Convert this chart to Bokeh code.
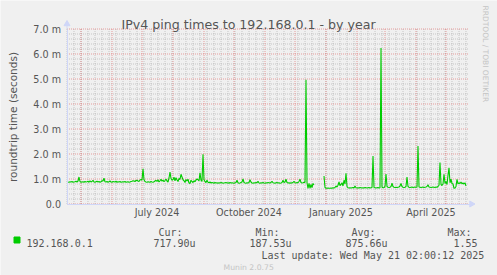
import numpy as np
import pandas as pd
from bokeh.plotting import figure
from bokeh.models import (Range1d, LinearAxis, DatetimeAxis, FixedTicker,
                          DatetimeTickFormatter, ColumnDataSource)
from bokeh.core.properties import value
from bokeh.embed import file_html
from bokeh.resources import INLINE

nan = np.nan

# ---------------- data ----------------
start_date = "2024-04-17"          # first daily sample
rtt_ms = [
    0.90, 0.88, 0.87, 0.89, 0.88, 0.90, 0.87, 0.88, 0.89, 0.91, 0.88, 0.92, 1.08, 0.90, 0.87, 0.88, 0.89, 0.87, 0.90, 0.88,
    0.89, 0.91, 0.87, 0.93, 0.88, 0.90, 0.95, 0.88, 0.87, 0.89, 0.91, 0.88, 0.90, 0.87, 0.89, 0.93, 0.92, 1.03, 0.89, 0.88,
    0.90, 0.87, 0.89, 0.92, 0.88, 0.87, 0.90, 0.89, 0.88, 0.91, 0.87, 0.89, 0.88, 0.90, 0.87, 0.88, 0.89, 0.88, 0.90, 0.87,
    0.88, 0.89, 0.87, 0.88, 0.90, 0.91, 0.93, 0.92, 0.90, 0.94, 0.95, 0.92, 0.90, 0.96, 0.98, 0.95, 1.41, 0.97, 0.90, 0.88,
    0.87, 0.89, 0.88, 0.87, 0.90, 0.88, 0.87, 0.89, 0.92, 0.95, 0.90, 0.97, 0.88, 0.93, 0.99, 0.91, 0.96, 0.89, 0.94, 1.00,
    0.92, 0.88, 1.04, 1.28, 1.02, 0.95, 0.98, 1.07, 0.93, 1.05, 0.96, 0.90, 1.02, 0.98, 1.19, 1.08, 0.97, 0.93, 0.86, 0.98,
    0.92, 0.99, 0.84, 0.82, 0.95, 0.90, 0.86, 0.93, 0.89, 0.96, 1.00, 0.97, 0.92, 1.25, 0.95, 0.90, 1.99, 0.97, 0.90, 0.86,
    0.95, 0.87, 0.85, 0.88, 0.84, 0.86, 0.85, 0.83, 0.86, 0.84, 0.85, 0.83, 0.85, 0.84, 0.86, 0.85, 0.83, 0.84, 0.85, 0.86,
    0.84, 0.85, 0.83, 0.86, 0.84, 0.85, 0.84, 0.83, 0.85, 0.86, 0.95, 0.85, 0.83, 0.84, 0.86, 0.88, 1.00, 0.86, 0.84, 0.83,
    0.85, 0.84, 0.86, 0.97, 0.88, 0.84, 0.83, 0.85, 0.84, 0.86, 0.85, 0.91, 0.84, 0.83, 0.85, 0.84, 0.86, 0.84, 0.83, 0.85,
    0.84, 0.86, 0.85, 0.84, 0.86, 0.91, 0.85, 0.84, 0.83, 0.85, 0.86, 0.84, 0.85, 0.83, 0.84, 0.86, 0.95, 0.86, 0.88, 0.99,
    0.86, 0.84, 0.85, 0.83, 0.85, 0.84, 0.86, 0.91, 0.85, 0.84, 0.86, 0.85, 0.90, 0.99, 0.86, 0.84, 0.85, 0.87, 0.86, 4.97,
    0.85, 0.62, 0.83, 0.63, 0.78, 0.66, 0.82, 0.76, nan, nan, nan, nan, nan, nan, nan, nan, nan, 1.12, 0.66, 0.63,
    0.63, 0.64, 0.63, 0.63, 0.64, 0.63, 0.65, 0.64, 0.66, 0.72, 0.68, 0.75, 0.88, 0.74, 0.78, 0.85, 0.72, 0.95, 0.80, 1.23,
    0.70, 0.65, 0.64, 0.65, 0.64, 0.65, 0.66, 0.64, 0.72, 0.65, 0.64, 0.65, 0.64, 0.66, 0.65, 0.64, 0.65, 0.64, 0.66, 0.65,
    0.64, 0.65, 0.66, 0.64, 0.65, 0.66, 1.92, 0.66, 0.65, 0.64, 0.65, 0.66, 0.64, 0.65, 6.24, 0.68, 0.65, 0.66, 0.70, 1.20,
    0.70, 0.67, 0.66, 0.67, 0.70, 0.83, 0.70, 0.67, 0.66, 0.67, 0.66, 0.67, 0.68, 0.72, 0.82, 0.70, 0.67, 0.66, 0.67, 0.70,
    1.08, 0.70, 0.67, 0.66, 0.67, 0.68, 0.66, 0.67, 0.68, 0.67, 0.68, 2.32, 0.68, 0.67, 0.66, 0.67, 0.68, 0.66, 0.67, 0.68,
    0.70, 0.77, 0.68, 0.67, 0.66, 0.67, 0.68, 0.67, 0.66, 0.68, 0.67, 0.70, 0.75, 1.66, 0.78, 0.74, 0.80, 1.19, 0.82, 0.90,
    0.78, 1.15, 1.45, 0.85, 0.99, 0.82, 0.80, 0.63, 0.64, 0.70, 0.99, 0.80, 0.85, 0.82, 0.88, 0.81, 0.84, 0.80, 0.85, 0.72,
]
x_tick_dates = ["2024-07-16", "2024-10-16", "2025-01-16", "2025-04-16"]
y_ticks = [0, 1, 2, 3, 4, 5, 6, 7]
y_tick_labels = ["0.0", "1.0 m", "2.0 m", "3.0 m", "4.0 m", "5.0 m", "6.0 m", "7.0 m"]
series_name = "192.168.0.1"
stat_names = ["Cur:", "Min:", "Avg:", "Max:"]
stat_values = ["717.90u", "187.53u", "875.66u", "1.55"]
title_text = "IPv4 ping times to 192.168.0.1 - by year"
y_title = "roundtrip time (seconds)"
last_update = "Last update: Wed May 21 02:00:12 2025"
footer = "Munin 2.0.75"
watermark = "RRDTOOL / TOBI OETIKER"

# ---------------- layout constants ----------------
W, H = 497, 275
X0, Y0, YS = 66.5, 203.5, 25.0     # pixel of first day, pixel of 0 ms, px per ms
GRID_RIGHT = 468
FONT = "DejaVu Sans"
MONO = "DejaVu Sans Mono"
TXT = "#555555"
AXIS_COL = "#CFD6F8"
GREEN = "#00CC00"
BG = "#F0F0F0"

t0 = pd.Timestamp(start_date)
DAY = pd.Timedelta(days=1)
dates = pd.date_range(t0, periods=len(rtt_ms), freq="D")


def px(x):
    return t0 + (x - X0) * DAY


def py(y):
    return (Y0 - y) / YS


def ms(ts):
    return pd.Timestamp(ts).value / 1e6


p = figure(width=W, height=H, output_backend="svg", toolbar_location=None,
           x_range=Range1d(px(0), px(W)), y_range=Range1d(py(H), py(0)),
           x_axis_location=None, y_axis_location=None, min_border=0,
           title_location=None)
p.outline_line_color = None
p.background_fill_color = BG
p.border_fill_color = BG
p.grid.visible = False

# ---------------- grid ----------------
x_right = px(GRID_RIGHT)
week_lines = pd.date_range(t0, x_right, freq="7D")
month_lines = pd.date_range(t0, x_right, freq="MS")
y_top = max(y_ticks)
minor_y = [round(v, 1) for v in np.arange(0.2, y_top, 0.2) if abs(v - round(v)) > 1e-6]

p.segment(x0=week_lines, y0=0, x1=week_lines, y1=y_top, line_color="#8c8c8c",
          line_alpha=0.42, line_width=1, line_dash="1 1")
p.segment(x0=t0, y0=minor_y, x1=x_right, y1=minor_y, line_color="#8c8c8c",
          line_alpha=0.42, line_width=1, line_dash="1 1")
p.segment(x0=month_lines, y0=0, x1=month_lines, y1=y_top, line_color="#e05a5a",
          line_alpha=0.55, line_width=1, line_dash="1 1")
p.segment(x0=t0, y0=y_ticks, x1=x_right, y1=y_ticks, line_color="#e05a5a",
          line_alpha=0.55, line_width=1, line_dash="1 1")

# ---------------- data line ----------------
src = ColumnDataSource(data=dict(date=dates, rtt=rtt_ms))
p.line(x="date", y="rtt", source=src, line_color=GREEN, line_width=1.1)

# ---------------- axes ----------------
yaxis = LinearAxis(fixed_location=ms(t0), bounds=(0, y_top),
                   ticker=FixedTicker(ticks=y_ticks, minor_ticks=[]),
                   major_label_overrides=dict(zip(y_ticks, y_tick_labels)),
                   axis_label=y_title)
xaxis = DatetimeAxis(fixed_location=0.0, bounds=(ms(t0), ms(px(471))),
                     ticker=FixedTicker(ticks=[ms(d) for d in x_tick_dates], minor_ticks=[]),
                     formatter=DatetimeTickFormatter(
                         microseconds="%B %Y", milliseconds="%B %Y", seconds="%B %Y",
                         minsec="%B %Y", minutes="%B %Y", hourmin="%B %Y", hours="%B %Y",
                         days="%B %Y", months="%B %Y", years="%B %Y"))
for ax in (yaxis, xaxis):
    ax.axis_line_color = AXIS_COL
    ax.axis_line_width = 1
    ax.major_tick_line_color = None
    ax.minor_tick_line_color = None
    ax.major_tick_out = 0
    ax.major_tick_in = 0
    ax.major_label_text_font = FONT
    ax.major_label_text_font_size = "9.6px"
    ax.major_label_text_color = TXT
yaxis.major_label_standoff = 6
xaxis.major_label_standoff = 3
yaxis.axis_label_text_font = FONT
yaxis.axis_label_text_font_size = "10.5px"
yaxis.axis_label_text_font_style = "normal"
yaxis.axis_label_text_color = TXT
yaxis.axis_label_standoff = 12
p.add_layout(yaxis, "left")
p.add_layout(xaxis, "below")

# axis arrows
p.segment(x0=t0, y0=y_top, x1=t0, y1=py(24), line_color=AXIS_COL, line_width=1)
p.scatter(x=[t0], y=[py(23.5)], marker="triangle", size=6,
          fill_color=AXIS_COL, line_color=AXIS_COL)
p.scatter(x=[px(471)], y=[0], marker="triangle", angle=-np.pi / 2, size=6,
          fill_color=AXIS_COL, line_color=AXIS_COL)

# ---------------- texts ----------------
p.text(x=[px(248)], y=[py(24)], text=[title_text], text_align="center",
       text_baseline="alphabetic", text_font=value(FONT), text_font_size="12.6px",
       text_color=TXT)

p.scatter(x=[px(16.5)], y=[py(239.5)], marker="square", size=6,
          fill_color=GREEN, line_color=GREEN)
p.text(x=[px(26)], y=[py(242.5)], text=[series_name], text_baseline="alphabetic",
       text_font=value(MONO), text_font_size="10px", text_color=TXT)
p.text(x=[px(v) for v in (158, 255, 351, 447)], y=[py(231.5)] * 4, text=stat_names,
       text_baseline="alphabetic", text_font=value(MONO), text_font_size="10px",
       text_color=TXT)
p.text(x=[px(v) for v in (153, 249, 345, 453)], y=[py(242.5)] * 4, text=stat_values,
       text_baseline="alphabetic", text_font=value(MONO), text_font_size="10px",
       text_color=TXT)
p.text(x=[px(261)], y=[py(254.5)], text=[last_update], text_baseline="alphabetic",
       text_font=value(MONO), text_font_size="10px", text_color=TXT)
p.text(x=[px(223)], y=[py(267)], text=[footer], text_baseline="alphabetic",
       text_font=value(FONT), text_font_size="7.7px", text_color="#c4c4c4")
p.text(x=[px(485)], y=[py(5)], text=[watermark], angle=-np.pi / 2,
       text_align="left", text_baseline="alphabetic",
       text_font=value(FONT), text_font_size="7.5px", text_color="#c4c4c4")

open("out.html", "w").write(file_html(p, INLINE))
